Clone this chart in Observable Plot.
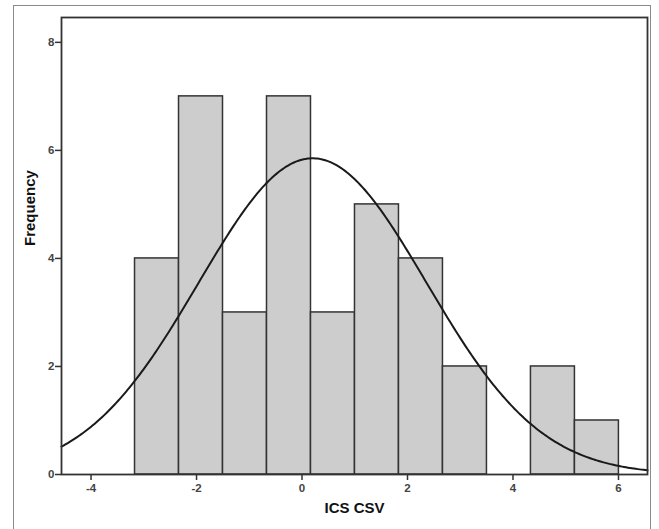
<!DOCTYPE html>
<html>
<head>
<meta charset="utf-8">
<script src="https://cdn.jsdelivr.net/npm/d3@7"></script>
<script src="https://cdn.jsdelivr.net/npm/@observablehq/plot@0.6"></script>
<style>
  html, body { margin: 0; padding: 0; background: #fff; }
  #wrap { position: relative; width: 659px; height: 529px; overflow: hidden; }
  #outer { position: absolute; left: 13px; top: 5px; width: 638px; height: 540px; border: 1.5px solid #8a8a8a; box-sizing: border-box; }
  #chart { position: absolute; left: 0; top: 0; }
</style>
</head>
<body>
<div id="wrap"><div id="outer"></div><div id="chart"></div></div>
<script>
// Histogram bin edges (ICS CSV) and counts
const binStart = [-3.166, -2.332, -1.498, -0.664, 0.170, 1.004, 1.838, 2.672, 3.506, 4.340, 5.174];
const binEnd   = [-2.332, -1.498, -0.664, 0.170, 1.004, 1.838, 2.672, 3.506, 4.340, 5.174, 6.008];
const counts   = [4, 7, 3, 7, 3, 5, 4, 2, 0, 2, 1];
// Fitted normal curve parameters (SPSS overlay)
const mean = 0.2;
const sd = 2.16;
const xTicks = [-4, -2, 0, 2, 4, 6];
const yTicks = [0, 2, 4, 6, 8];
const xLabel = "ICS CSV";
const yLabel = "Frequency";

const bins = counts.map((c, i) => ({x1: binStart[i], x2: binEnd[i], y: c})).filter(d => d.y > 0);
const n = d3.sum(counts);
const bw = binEnd[0] - binStart[0];
const xDomain = [-4.56, 6.55];
const curve = d3.range(0, 301).map(i => {
  const x = xDomain[0] + (xDomain[1] - xDomain[0]) * i / 300;
  const y = n * bw / (sd * Math.sqrt(2 * Math.PI)) * Math.exp(-((x - mean) ** 2) / (2 * sd * sd));
  return {x, y};
});

const plot = Plot.plot({
  width: 659,
  height: 529,
  marginLeft: 61,
  marginRight: 12,
  marginTop: 17,
  marginBottom: 55,
  style: {fontFamily: "Liberation Sans, Arial, sans-serif", fontSize: "11.5px", fontWeight: "bold", color: "#444", background: "transparent"},
  x: {domain: xDomain},
  y: {domain: [0, 8.46]},
  marks: [
    Plot.rectY(bins, {x1: "x1", x2: "x2", y: "y", fill: "#cdcdcd", stroke: "#333", strokeWidth: 1.5, inset: 0}),
    Plot.line(curve, {x: "x", y: "y", stroke: "#1a1a1a", strokeWidth: 2}),
    Plot.frame({stroke: "#333", strokeWidth: 1.8}),
    Plot.axisX({ticks: xTicks, tickSize: 6, tickPadding: 3, tickFormat: d => String(d), label: null, stroke: "#333", strokeWidth: 1.5, fill: "#444"}),
    Plot.axisY({ticks: yTicks, tickSize: 6, tickPadding: 1, tickFormat: d => String(d), label: null, stroke: "#333", strokeWidth: 1.5, fill: "#444"}),
    Plot.text([xLabel], {frameAnchor: "bottom", dy: 38, text: d => d, fontSize: 15, fontWeight: "bold", fill: "#111"}),
    Plot.text([yLabel], {frameAnchor: "left", dx: -31, rotate: -90, text: d => d, fontSize: 15, fontWeight: "bold", fill: "#111"})
  ]
});
document.getElementById("chart").appendChild(plot);
</script>
</body>
</html>
